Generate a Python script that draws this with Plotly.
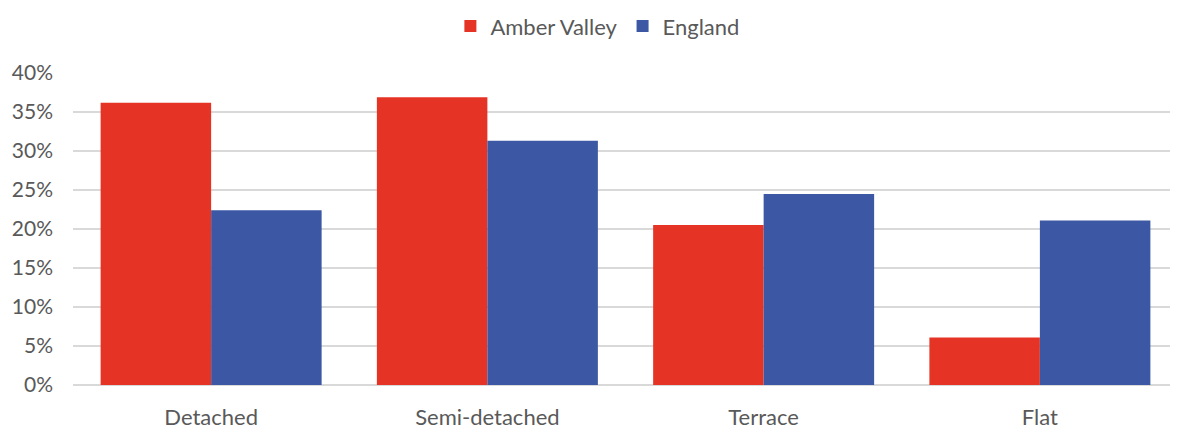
import plotly.graph_objects as go

categories = ["Detached", "Semi-detached", "Terrace", "Flat"]
amber_valley = [36.2, 36.9, 20.5, 6.1]
england = [22.4, 31.3, 24.5, 21.1]
y_ticks = [0, 5, 10, 15, 20, 25, 30, 35, 40]

fig = go.Figure()
fig.add_trace(go.Bar(x=categories, y=amber_valley, name="Amber Valley",
                     marker=dict(color="#E53425", line=dict(width=0))))
fig.add_trace(go.Bar(x=categories, y=england, name="England",
                     marker=dict(color="#3C58A4", line=dict(width=0))))

# page body adds an 8px margin, so the figure is a bit smaller than the window
fig.update_layout(
    width=1170, height=422,
    margin=dict(l=65, r=0, t=65, b=45, autoexpand=False),
    barmode="group", bargap=0.2, bargroupgap=0,
    plot_bgcolor="white", paper_bgcolor="white",
    font=dict(family="Lato, Open Sans, sans-serif", size=21, color="#595959"),
    legend=dict(orientation="h", x=0.475, xanchor="center", y=1.15, yanchor="middle",
                font=dict(size=22), itemwidth=30),
    xaxis=dict(showline=False, ticks="", ticklabelstandoff=17,
               tickfont=dict(size=22)),
    yaxis=dict(range=[0, 40], tickvals=y_ticks, ticktext=[f"{v}%" for v in y_ticks],
               showgrid=True, gridcolor="#D9D9D9", gridwidth=2, zeroline=True,
               zerolinecolor="#D9D9D9", zerolinewidth=2, ticklabelstandoff=19),
)

fig.write_html("out.html")
